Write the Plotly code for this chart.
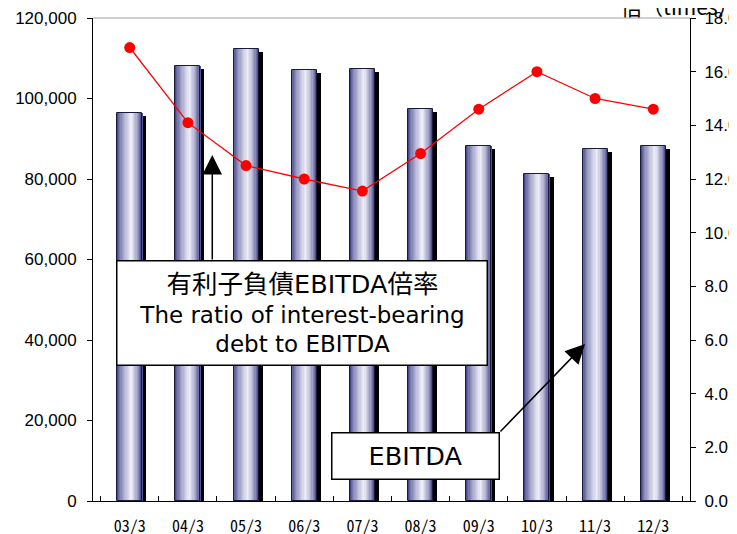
import plotly.graph_objects as go

# ---------------- data ----------------
categories = ["03/3", "04/3", "05/3", "06/3", "07/3", "08/3", "09/3", "10/3", "11/3", "12/3"]
ebitda = [96500, 108200, 112200, 107100, 107300, 97400, 88300, 81200, 87400, 88100]
ratio = [16.9, 14.1, 12.5, 12.0, 11.55, 12.95, 14.6, 16.0, 15.0, 14.6]
left_ticks = [0, 20000, 40000, 60000, 80000, 100000, 120000]
right_ticks = [0, 2, 4, 6, 8, 10, 12, 14, 16, 18]

# ---------------- style ----------------
# the page body has an 8px margin, so the figure is sized to fill the rest of the window
FIG_W, FIG_H = 729, 526
BAR_W = 0.43
N_SLICES = 20
DARK = (42, 42, 120)
LIGHT = (238, 238, 250)
PEAK = 0.58
SHADOW_SHIFT = 0.07
SHADOW_DROP = 750
TICK_FONT = dict(family="Liberation Sans, Arial, sans-serif", size=17, color="black")
X_FONT = dict(family="Noto Sans Mono CJK JP, DejaVu Sans Mono, monospace", size=16, color="black")
BOX_FONT = dict(family="DejaVu Sans, Noto Sans CJK JP, sans-serif", size=23, color="black")

fig = go.Figure()

# shadow
fig.add_trace(go.Bar(
    x=categories, y=[v - SHADOW_DROP for v in ebitda],
    width=BAR_W, offset=-BAR_W / 2 + SHADOW_SHIFT,
    marker=dict(color="black", line=dict(width=0)),
    hoverinfo="skip", showlegend=False, yaxis="y"))

# gradient slices (cylinder look)
sw = BAR_W / N_SLICES
for i in range(N_SLICES):
    t = (i + 0.5) / N_SLICES
    s = t / PEAK if t < PEAK else (1 - t) / (1 - PEAK)
    k = s ** 0.6
    col = tuple(int(round(d + (l - d) * k)) for d, l in zip(DARK, LIGHT))
    fig.add_trace(go.Bar(
        x=categories, y=ebitda,
        width=sw * 1.25, offset=-BAR_W / 2 + i * sw,
        marker=dict(color="rgb(%d,%d,%d)" % col, line=dict(width=0)),
        hoverinfo="skip", showlegend=False, yaxis="y"))

# outline
fig.add_trace(go.Bar(
    x=categories, y=ebitda, width=BAR_W, offset=-BAR_W / 2,
    marker=dict(color="rgba(0,0,0,0)", line=dict(width=1, color="#1a1a3a")),
    hoverinfo="skip", showlegend=False, yaxis="y"))

# ratio line
fig.add_trace(go.Scatter(
    x=categories, y=ratio, mode="lines+markers", yaxis="y2",
    line=dict(color="#ff0000", width=1.3),
    marker=dict(color="#ff0000", size=11),
    hoverinfo="skip", showlegend=False))

fig.update_layout(
    width=FIG_W, height=FIG_H,
    margin=dict(l=85, r=47, t=10, b=33, autoexpand=False),
    paper_bgcolor="white", plot_bgcolor="white",
    barmode="overlay", bargap=0,
    showlegend=False,
    xaxis=dict(
        type="category", showgrid=False, showline=True, linecolor="black", linewidth=1,
        ticks="inside", ticklen=5, tickcolor="black", tickson="boundaries", automargin=False,
        tickfont=X_FONT, ticklabelstandoff=11, ticklabeloverflow="allow",
        zeroline=False, fixedrange=True),
    yaxis=dict(
        range=[0, 120000], tickvals=left_ticks, tickformat=",", showgrid=False, automargin=False,
        showline=True, linecolor="black", linewidth=1, ticks="outside", ticklen=5,
        tickcolor="black", tickfont=TICK_FONT, ticklabelstandoff=7,
        ticklabeloverflow="allow", zeroline=False),
    yaxis2=dict(
        range=[0, 18], tickvals=right_ticks, tickformat=".1f", overlaying="y", side="right",
        showgrid=False, showline=True, linecolor="black", linewidth=1, ticks="outside",
        automargin=False, ticklabeloverflow="allow",
        ticklen=5, tickcolor="black", tickfont=TICK_FONT, ticklabelstandoff=5, zeroline=False),
    shapes=[dict(type="line", xref="paper", yref="paper", x0=0, x1=1, y0=1, y1=1,
                 line=dict(color="#a0a0a0", width=1))],
)

box1_text = ('<span style="font-size:25.5px">有利子負債EBITDA倍率</span><br>'
             'The ratio of interest-bearing<br>debt to EBITDA')
annotations = [
    dict(text=box1_text,
         xref="paper", yref="paper", x=0.3509, y=0.3882, xanchor="center", yanchor="middle",
         showarrow=False, font=BOX_FONT, bgcolor="white", bordercolor="black",
         borderwidth=1.5, borderpad=1, width=367, height=101, align="center"),
    dict(text="EBITDA",
         xref="paper", yref="paper", x=0.5402, y=0.0932, xanchor="center", yanchor="middle",
         showarrow=False, font=dict(BOX_FONT, size=25.5), bgcolor="white", bordercolor="black",
         borderwidth=1.5, borderpad=1, width=164, height=43, align="center"),
    dict(text="", xref="paper", yref="paper", x=0.1998, y=0.7164, axref="pixel", ayref="pixel",
         ax=0, ay=106, showarrow=True, arrowhead=2, arrowsize=2.6, arrowwidth=1.5,
         arrowcolor="black", standoff=0, startstandoff=0),
    dict(text="", xref="paper", yref="paper", x=(585 - 93) / 597, y=(501 - 344) / 483,
         axref="pixel", ayref="pixel", ax=-86, ay=89, showarrow=True, arrowhead=2,
         arrowsize=2.6, arrowwidth=1.5, arrowcolor="black", standoff=0, startstandoff=0),
    dict(text="倍（times）", xref="paper", yref="paper", x=(680 - 93) / 597, y=(501 - 6) / 483,
         xanchor="center", yanchor="middle", showarrow=False,
         font=dict(family="Noto Sans CJK JP, sans-serif", size=21, color="black")),
]
fig.update_layout(annotations=annotations)

fig.write_html("out.html")
